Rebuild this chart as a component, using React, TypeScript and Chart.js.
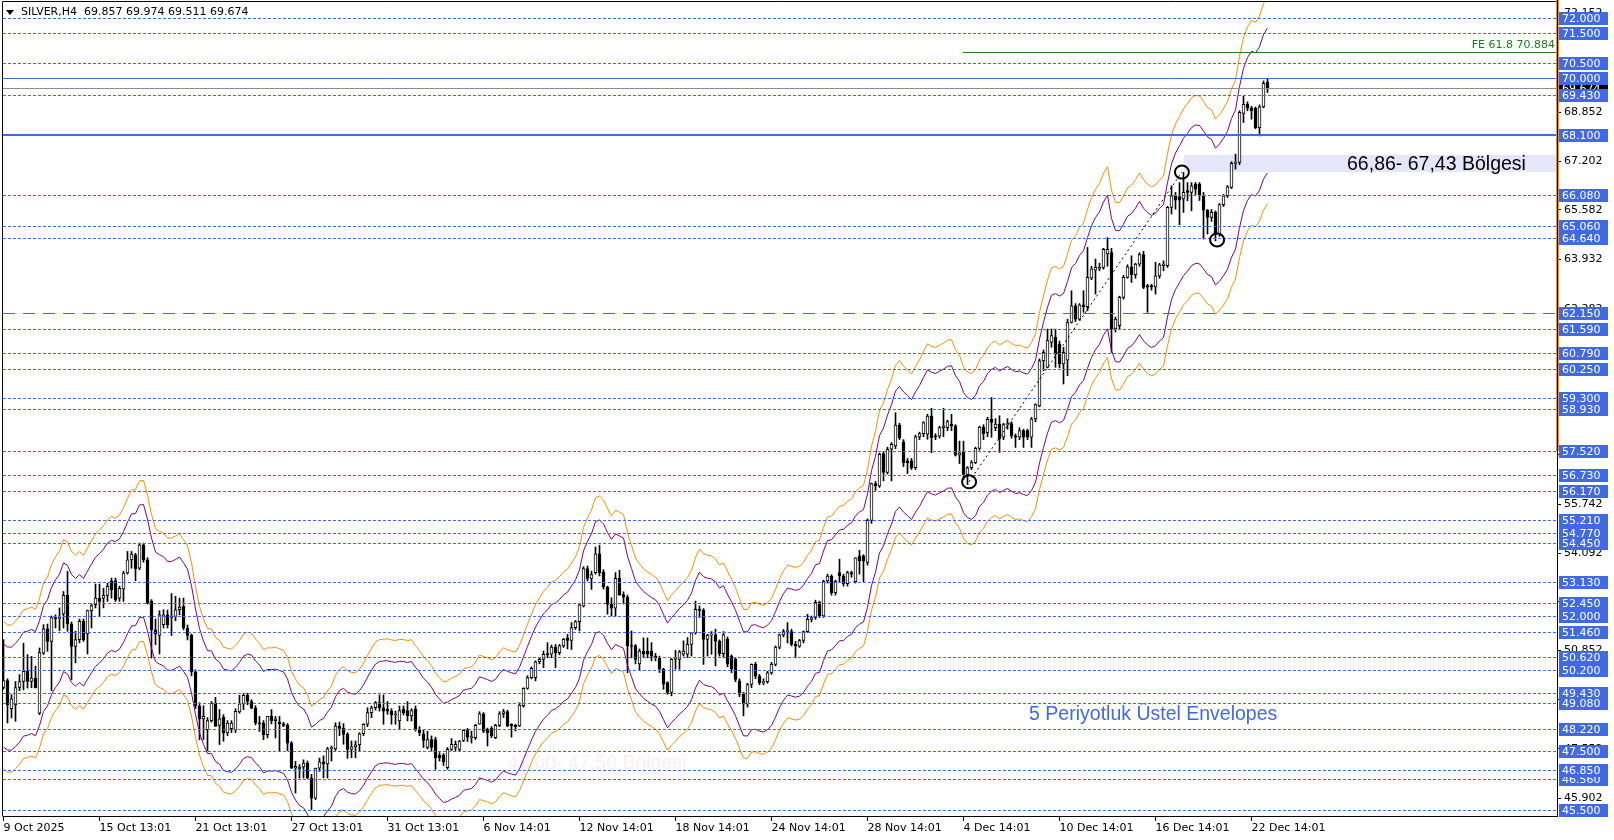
import { useEffect, useRef } from 'react';
import { Chart, registerables } from 'chart.js';

Chart.register(...registerables);

// ---------------- DATA ----------------
const symbolTitle = 'SILVER,H4';
const headerValues = ['69.857', '69.974', '69.511', '69.674'];

const opens = [
  49.61,49.84,48.90,49.03,49.61,49.81,50.15,49.81,49.92,48.75,
  50.76,51.57,51.15,51.95,51.91,52.07,52.69,51.73,50.98,51.21,
  51.82,51.40,52.18,52.38,52.60,52.60,52.69,53.18,53.18,52.60,
  52.91,53.44,53.88,54.05,53.60,54.38,53.88,52.49,51.54,51.35,
  51.71,52.04,51.95,51.99,52.21,52.32,51.60,51.35,50.13,48.98,
  48.56,48.20,48.50,49.09,48.34,48.61,48.09,48.23,48.20,48.79,
  49.06,49.35,49.14,48.92,48.42,48.42,48.03,48.64,48.50,48.45,
  48.39,48.34,47.75,46.91,46.89,46.94,47.08,46.58,45.91,46.91,
  47.12,47.05,47.56,47.55,48.32,48.24,48.04,47.54,47.62,47.69,
  48.06,48.38,48.77,48.93,49.10,48.93,48.88,48.82,48.69,48.49,
  48.88,48.84,48.66,48.88,48.21,48.06,47.60,47.87,47.87,47.35,
  47.35,46.93,47.54,47.60,47.54,47.84,48.18,47.93,47.93,48.38,
  48.73,48.21,48.24,47.93,48.34,48.73,48.80,48.38,48.34,48.32,
  49.00,49.58,49.94,49.94,50.47,50.55,50.74,50.72,50.96,50.77,
  51.00,51.27,51.18,51.61,51.81,52.33,53.59,53.26,53.45,54.08,
  53.48,52.97,52.39,52.26,53.26,52.72,52.63,51.00,51.00,50.40,
  50.83,50.83,50.83,50.66,50.61,50.22,49.77,49.44,50.55,50.55,
  50.72,50.72,51.05,51.44,52.22,52.19,51.22,51.36,51.37,51.16,
  50.74,51.22,50.66,50.55,49.83,49.38,49.05,49.71,50.38,49.99,
  49.77,49.80,50.10,50.38,50.96,51.37,51.48,51.48,51.05,50.99,
  51.18,51.48,51.89,51.95,52.46,52.00,53.17,53.34,52.78,53.45,
  53.34,53.08,53.45,53.15,54.01,54.01,53.79,55.20,56.43,56.35,
  57.43,56.80,57.58,57.69,58.39,57.83,57.19,57.19,56.96,57.99,
  58.10,58.08,58.69,58.02,58.02,58.30,58.30,58.41,58.36,57.38,
  57.50,56.74,56.96,57.13,57.61,58.32,58.13,58.58,58.30,58.42,
  57.98,58.40,58.44,58.03,57.98,58.20,58.20,57.98,58.59,59.03,
  60.54,60.32,61.15,61.32,61.10,60.43,60.56,61.82,62.38,61.93,
  62.41,62.35,63.30,63.57,63.62,63.66,64.11,64.16,61.60,61.71,
  62.66,63.33,63.68,63.42,63.77,64.09,63.05,63.05,63.01,63.38,
  63.72,63.72,65.67,66.06,66.03,65.95,66.23,66.17,66.45,66.45,
  66.06,65.58,65.33,65.50,64.78,65.76,66.06,66.34,67.14,67.17,
  68.81,69.12,68.99,68.99,68.34,69.03,69.857,
];

const highs = [
  51.21,49.90,49.37,49.81,50.04,51.09,50.71,50.65,50.32,50.93,
  51.71,51.73,52.00,52.04,52.27,52.82,53.49,51.80,51.49,51.90,
  51.90,52.20,52.40,53.07,53.07,52.93,53.10,53.27,53.27,53.00,
  53.50,54.16,54.16,54.10,54.44,54.44,53.95,52.55,51.90,52.18,
  52.21,52.20,52.75,52.66,52.60,52.60,51.70,51.40,50.20,49.10,
  49.00,48.60,49.14,49.28,48.87,48.70,48.50,48.50,48.90,49.35,
  49.42,49.42,49.20,49.00,48.64,48.50,48.64,48.87,48.64,48.64,
  48.45,48.40,47.80,47.14,47.03,47.19,47.15,46.70,46.91,47.25,
  47.32,47.61,47.65,48.43,48.45,48.40,48.10,47.82,47.82,48.10,
  48.40,48.93,48.99,49.14,49.36,49.36,49.14,48.90,48.82,48.99,
  48.99,49.14,48.90,48.99,48.30,48.20,48.15,47.99,47.95,47.43,
  47.40,47.60,47.90,47.82,47.84,48.20,48.24,48.15,48.38,48.80,
  48.77,48.25,48.30,48.38,48.80,48.88,48.85,48.40,48.38,49.10,
  49.60,50.00,50.30,50.50,50.60,50.83,51.11,51.03,51.05,51.05,
  51.25,51.39,51.78,51.85,52.41,53.65,53.67,53.50,54.31,54.37,
  53.55,53.00,52.61,53.45,53.53,52.81,52.70,51.50,51.05,50.90,
  51.27,51.27,51.11,50.75,50.66,50.25,49.80,50.58,50.85,50.85,
  51.17,51.28,51.44,52.50,52.34,52.25,51.39,51.48,51.56,51.20,
  51.48,51.30,50.70,50.60,49.90,49.45,49.75,50.40,50.45,50.05,
  49.90,50.15,50.45,51.00,51.40,51.55,51.78,51.56,51.15,51.22,
  51.50,52.06,52.00,52.53,52.50,53.20,53.40,53.38,53.20,53.90,
  53.40,53.50,53.50,53.95,54.20,54.05,55.25,56.45,56.50,57.45,
  57.50,57.65,57.80,58.80,58.45,57.90,57.27,57.27,58.05,58.15,
  58.50,58.75,58.95,58.10,58.35,58.95,58.55,58.75,58.40,57.85,
  57.85,57.00,57.20,57.65,58.35,58.40,58.65,59.31,58.60,58.70,
  58.45,58.60,58.50,58.09,58.30,58.25,58.25,58.65,59.10,60.60,
  60.90,61.60,61.60,61.60,61.20,60.99,61.93,62.88,62.45,62.45,
  62.88,64.33,63.70,63.94,63.80,64.30,64.66,64.30,62.00,62.70,
  63.40,63.75,64.05,63.80,64.15,64.20,63.10,63.10,63.83,63.80,
  63.88,65.70,66.39,66.17,66.50,66.84,66.50,66.50,66.50,66.50,
  66.17,65.60,65.60,65.55,65.80,66.10,66.40,67.20,67.45,68.90,
  69.40,69.20,69.05,69.03,69.10,69.90,69.974,
];

const lows = [
  49.55,48.42,48.59,48.48,49.50,49.53,49.59,49.60,49.59,48.70,
  50.71,50.82,49.50,51.60,51.51,51.60,51.49,49.87,50.43,51.10,
  51.15,50.73,51.60,52.27,51.99,52.27,52.49,52.60,52.49,52.49,
  52.49,53.40,53.60,53.18,53.55,53.80,52.40,50.59,51.04,50.73,
  51.60,51.60,51.35,51.84,52.04,51.54,51.20,50.00,48.90,47.86,
  47.86,47.49,48.45,48.31,47.70,47.81,48.00,48.10,48.10,48.75,
  48.87,49.03,48.90,48.36,48.14,47.86,47.92,48.39,47.92,47.49,
  48.30,47.49,46.90,46.08,46.58,46.58,46.55,45.52,45.86,46.80,
  46.59,46.58,47.15,47.50,48.00,47.71,47.24,47.26,47.26,47.48,
  48.00,48.30,48.60,48.85,48.82,48.38,48.71,48.38,48.38,48.21,
  48.69,48.49,48.49,48.15,48.00,47.60,47.55,47.48,46.87,47.15,
  47.00,46.87,47.50,47.48,47.48,47.80,47.80,47.75,47.87,48.38,
  48.10,47.65,47.93,47.90,48.30,48.60,48.30,47.95,48.15,48.30,
  48.95,49.55,49.90,49.83,50.40,50.27,50.60,50.60,50.27,50.70,
  50.95,50.90,50.88,51.55,51.50,52.30,53.17,52.89,53.40,53.34,
  52.90,52.06,52.00,52.00,52.70,52.40,50.10,50.60,50.40,50.20,
  50.60,50.60,50.50,50.50,50.11,49.55,49.38,49.33,50.22,50.22,
  50.66,50.61,50.66,51.39,51.95,50.38,50.66,50.72,50.33,50.66,
  50.60,50.30,50.10,49.80,49.30,48.66,48.95,49.60,49.90,49.70,
  49.70,49.75,50.05,50.33,50.90,51.30,51.10,51.00,50.60,50.95,
  51.10,51.45,51.80,51.89,51.95,51.95,53.10,52.70,52.70,53.15,
  53.00,53.00,53.30,53.10,53.40,53.15,53.70,55.10,56.20,56.30,
  56.52,56.75,56.52,57.60,57.90,57.00,56.76,56.90,56.90,57.90,
  58.00,57.91,57.46,57.90,57.95,58.00,58.20,58.20,57.35,57.10,
  56.57,56.40,56.90,57.10,57.55,57.90,58.00,57.98,58.20,57.47,
  57.90,58.25,57.95,57.64,57.90,57.64,57.90,57.64,58.50,59.00,
  60.21,60.30,60.99,60.32,60.30,59.76,60.04,61.80,61.85,61.90,
  62.16,62.21,63.25,62.77,63.55,63.60,63.70,60.82,61.50,61.60,
  62.60,63.30,63.16,63.30,63.70,62.95,62.16,62.90,62.77,63.30,
  63.55,63.66,65.45,65.61,65.09,65.50,65.89,65.56,66.10,65.90,
  64.61,64.78,65.20,64.55,64.70,65.70,66.00,66.30,66.95,67.10,
  68.51,68.90,68.62,68.30,68.06,69.00,69.511,
];

const closes = [
  49.84,49.03,49.23,49.61,49.81,50.15,49.81,49.92,49.60,50.78,
  51.57,51.15,51.95,51.91,51.95,52.69,51.73,50.98,51.21,51.82,
  51.21,52.18,52.35,52.60,52.49,52.69,52.99,52.88,52.54,52.93,
  53.44,53.88,54.07,53.58,54.38,53.88,52.43,51.54,51.40,52.04,
  52.04,51.71,51.99,52.21,52.30,51.60,51.35,50.13,48.98,48.56,
  48.64,48.50,49.09,48.31,48.56,48.09,48.42,48.42,48.81,49.06,
  49.35,49.14,48.92,48.42,48.39,48.03,48.64,48.50,48.56,48.39,
  48.34,47.75,46.91,46.97,46.94,47.08,46.58,45.91,46.91,47.12,
  47.05,47.56,47.60,48.32,48.24,48.04,47.54,47.62,47.69,48.06,
  48.38,48.77,48.93,49.10,48.93,48.82,48.82,48.69,48.71,48.84,
  48.77,48.66,48.84,48.21,48.10,47.84,47.87,47.60,47.26,47.26,
  47.13,47.54,47.71,47.71,47.82,48.18,47.95,47.95,48.34,48.73,
  48.15,48.10,48.00,48.34,48.73,48.80,48.32,48.32,48.30,49.02,
  49.58,49.94,50.25,50.47,50.55,50.72,50.70,50.96,50.77,51.00,
  51.22,51.18,51.61,51.81,52.37,53.59,53.26,53.39,54.08,53.45,
  52.97,52.39,52.26,53.26,52.70,52.63,51.00,50.98,50.55,50.83,
  50.73,50.72,50.66,50.61,50.22,49.72,49.44,50.55,50.61,50.80,
  50.83,51.05,51.44,52.22,52.19,51.22,51.36,51.39,51.16,50.74,
  51.37,50.39,50.22,49.88,49.38,49.05,49.71,50.38,49.99,49.77,
  49.80,50.10,50.38,50.96,51.37,51.48,51.50,51.05,50.99,51.18,
  51.48,51.89,51.95,52.46,52.00,53.17,53.34,52.78,53.17,53.34,
  53.08,53.45,53.40,53.95,53.84,53.84,55.20,56.43,56.35,57.41,
  56.80,57.58,57.74,58.39,57.97,57.13,57.13,56.96,57.99,58.10,
  58.47,58.69,57.97,57.99,58.30,58.36,58.50,58.36,57.38,57.46,
  56.74,56.96,57.13,57.61,58.32,58.10,58.58,58.48,58.42,57.92,
  58.40,58.44,58.03,57.98,58.20,57.98,57.98,58.59,59.07,60.54,
  60.82,61.21,61.38,60.76,60.43,60.82,61.82,62.38,61.93,62.41,
  62.35,63.33,63.61,63.66,63.66,64.27,64.27,61.60,61.93,62.66,
  63.33,63.68,63.42,63.77,64.09,62.99,63.00,63.01,63.38,63.75,
  63.77,65.67,66.06,65.91,65.91,66.17,66.17,66.39,66.28,66.06,
  65.58,65.33,65.50,64.78,65.76,66.06,66.36,67.14,67.17,68.85,
  69.12,68.99,68.90,68.34,69.03,69.82,69.674,
];

const dateLabels = [
  '9 Oct 2025', '15 Oct 13:01', '21 Oct 13:01', '27 Oct 13:01', '31 Oct 13:01',
  '6 Nov 14:01', '12 Nov 14:01', '18 Nov 14:01', '24 Nov 14:01', '28 Nov 14:01',
  '4 Dec 14:01', '10 Dec 14:01', '16 Dec 14:01', '22 Dec 14:01',
];
const dateTickBars = [0, 24, 48, 72, 96, 120, 144, 168, 192, 216, 240, 264, 288, 312];

const priceTicks = [45.902, 47.552, 49.202, 50.852, 52.472, 54.092, 55.742, 57.392, 59.042,
  60.662, 62.282, 63.932, 65.582, 67.202, 68.852, 70.502, 72.152];

const dottedLevels = [72.0, 71.5, 70.5, 69.43, 66.08, 65.06, 64.64, 61.59, 60.79, 60.25, 59.3,
  58.93, 57.52, 56.73, 56.17, 55.21, 54.77, 54.45, 53.13, 52.45, 52.0, 51.46, 50.62, 50.2,
  49.43, 49.08, 48.22, 47.5, 46.85, 46.56, 45.5];
const solidLevels = [70.0];
const thickLevels = [68.1];
const dashedLevels = [62.15];
const axisBoxLevels = [72.0, 71.5, 70.5, 70.0, 69.43, 68.1, 66.08, 65.06, 64.64, 62.15, 61.59,
  60.79, 60.25, 59.3, 58.93, 57.52, 56.73, 56.17, 55.21, 54.77, 54.45, 53.13, 52.45, 52.0,
  51.46, 50.62, 50.2, 49.43, 49.08, 48.22, 47.5, 46.56, 46.85, 45.5];
const currentPrice = 69.674;

const feLevel = 70.884;
const feStartBar = 239.75;
const feLabel = 'FE 61.8 70.884';

const zoneLow = 66.86;
const zoneHigh = 67.43;
const zoneStartBar = 295;
const zoneLabel = '66,86- 67,43 Bölgesi';
const zoneLabelBar = 380.6;

const faintLabel = '47,00- 47,50 Bölgesi';
const faintLabelBar = 126;
const faintLabelPrice = 47.05;

const envelopeLabel = '5 Periyotluk Üstel Envelopes';
const envelopeLabelBar = 256.4;
const envelopeLabelPrice = 48.69;

const markerBars = [241.4, 294.6, 303.4];
const markerPrices = [56.49, 66.85, 64.58];

const stripeBottomPrice = 57.52;

const emaPeriod = 5;
const emaSeed = 49.1;
const innerDeviation = 3.5;
const outerDeviation = 5.0;

const yMin = 45.31;
const yMax = 72.54;
const xMin = -0.125;
const xMax = 388.375;

// ---------------- DERIVED ----------------
const n = Math.min(opens.length, highs.length, lows.length, closes.length);
const bars = Array.from({ length: n }, (_, i) => i);
const ema: number[] = [];
{
  const alpha = 2 / (emaPeriod + 1);
  let prev = emaSeed;
  for (let i = 0; i < n; i++) {
    prev = prev + alpha * (closes[i] - prev);
    ema.push(prev);
  }
}
const env = (k: number) => bars.map((i) => ({ x: i, y: ema[i] * (1 + k / 100) }));

const BLUE = '#4169e1';
const FONT = '"DejaVu Sans"';

const overlay = {
  id: 'mt4Overlay',
  beforeDraw(chart: any) {
    const { ctx } = chart;
    ctx.save();
    ctx.fillStyle = '#ffffff';
    ctx.fillRect(0, 0, chart.width, chart.height);
    ctx.restore();
  },
  beforeDatasetsDraw(chart: any) {
    const { ctx, chartArea: a } = chart;
    const x = chart.scales.x;
    const y = chart.scales.y;
    ctx.save();
    ctx.beginPath();
    ctx.rect(a.left, a.top, a.right - a.left, a.bottom - a.top);
    ctx.clip();
    const zx = Math.round(x.getPixelForValue(zoneStartBar));
    const zt = Math.round(y.getPixelForValue(zoneHigh));
    const zb = Math.round(y.getPixelForValue(zoneLow));
    ctx.fillStyle = '#e6e6fa';
    ctx.fillRect(zx, zt, a.right - zx, zb - zt);
    ctx.font = '19.5px "Liberation Sans"';
    ctx.fillStyle = '#fbeeee';
    ctx.textAlign = 'left';
    ctx.textBaseline = 'middle';
    ctx.fillText(faintLabel, x.getPixelForValue(faintLabelBar), y.getPixelForValue(faintLabelPrice));
    ctx.restore();
  },
  afterDatasetsDraw(chart: any) {
    const { ctx, chartArea: a } = chart;
    const x = chart.scales.x;
    const y = chart.scales.y;
    const py = (v: number) => Math.round(y.getPixelForValue(v)) + 0.5;
    const hline = (v: number) => {
      const yy = py(v);
      ctx.beginPath();
      ctx.moveTo(a.left, yy);
      ctx.lineTo(a.right, yy);
      ctx.stroke();
    };
    ctx.save();
    ctx.beginPath();
    ctx.rect(a.left, a.top, a.right - a.left, a.bottom - a.top);
    ctx.clip();

    ctx.lineWidth = 1;
    ctx.strokeStyle = BLUE;
    ctx.setLineDash([3, 2]);
    dottedLevels.forEach(hline);
    ctx.setLineDash([12, 8]);
    dashedLevels.forEach(hline);
    ctx.setLineDash([]);
    ctx.strokeStyle = '#8c8c8c';
    hline(currentPrice);
    ctx.strokeStyle = BLUE;
    solidLevels.forEach(hline);
    ctx.lineWidth = 2;
    thickLevels.forEach((v) => {
      const yy = Math.round(y.getPixelForValue(v));
      ctx.beginPath();
      ctx.moveTo(a.left, yy);
      ctx.lineTo(a.right, yy);
      ctx.stroke();
    });

    // FE line
    ctx.lineWidth = 1;
    ctx.strokeStyle = '#1e7b1e';
    const fy = py(feLevel);
    ctx.beginPath();
    ctx.moveTo(Math.round(x.getPixelForValue(feStartBar)), fy);
    ctx.lineTo(a.right, fy);
    ctx.stroke();
    ctx.font = '11px ' + FONT;
    ctx.fillStyle = '#1e7b1e';
    ctx.textAlign = 'right';
    ctx.textBaseline = 'bottom';
    ctx.fillText(feLabel, a.right - 2, fy - 2);

    // trend (dotted) line between first two markers
    ctx.strokeStyle = '#000';
    ctx.setLineDash([2, 3]);
    ctx.beginPath();
    ctx.moveTo(x.getPixelForValue(markerBars[0]), y.getPixelForValue(markerPrices[0]));
    ctx.lineTo(x.getPixelForValue(markerBars[1]), y.getPixelForValue(markerPrices[1]));
    ctx.stroke();
    ctx.setLineDash([]);

    // circles
    ctx.lineWidth = 2;
    markerBars.forEach((b, i) => {
      ctx.beginPath();
      ctx.ellipse(x.getPixelForValue(b), y.getPixelForValue(markerPrices[i]), 7, 6.5, 0, 0, Math.PI * 2);
      ctx.stroke();
    });

    // texts
    ctx.font = '19.5px "Liberation Sans"';
    ctx.textBaseline = 'middle';
    ctx.fillStyle = '#000';
    ctx.textAlign = 'right';
    ctx.fillText(zoneLabel, x.getPixelForValue(zoneLabelBar), y.getPixelForValue((zoneLow + zoneHigh) / 2) + 1);
    ctx.fillStyle = BLUE;
    ctx.textAlign = 'left';
    ctx.fillText(envelopeLabel, x.getPixelForValue(envelopeLabelBar), y.getPixelForValue(envelopeLabelPrice));
    ctx.restore();
  },
  afterDraw(chart: any) {
    const { ctx, chartArea: a } = chart;
    const y = chart.scales.y;
    ctx.save();
    // header
    ctx.fillStyle = '#000';
    ctx.beginPath();
    ctx.moveTo(6, 10);
    ctx.lineTo(14, 10);
    ctx.lineTo(10, 15);
    ctx.closePath();
    ctx.fill();
    ctx.font = '11px ' + FONT;
    ctx.textAlign = 'left';
    ctx.textBaseline = 'middle';
    ctx.fillText(symbolTitle + '  ' + headerValues.join(' '), 21, 12);

    // frame
    ctx.strokeStyle = '#000';
    ctx.lineWidth = 1;
    ctx.beginPath();
    ctx.moveTo(a.left - 0.5, a.bottom + 0.5);
    ctx.lineTo(a.left - 0.5, a.top - 0.5);
    ctx.lineTo(a.right, a.top - 0.5);
    ctx.stroke();

    // orange stripe on price axis
    const sb = Math.round(y.getPixelForValue(stripeBottomPrice));
    ctx.fillStyle = '#ff8c00';
    ctx.fillRect(a.right - 1, 0, 3, sb);
    ctx.fillStyle = '#000';
    ctx.fillRect(a.right, 0, 1, a.bottom + 1);

    // price boxes
    ctx.font = '11px ' + FONT;
    ctx.textAlign = 'left';
    ctx.textBaseline = 'middle';
    const box = (v: number, bg: string, fg: string) => {
      const yy = Math.round(y.getPixelForValue(v));
      ctx.fillStyle = bg;
      ctx.fillRect(a.right + 2, yy - 6, 49, 13);
      ctx.fillStyle = fg;
      ctx.fillText(v.toFixed(3), a.right + 5, yy + 1);
    };
    box(currentPrice, '#000', '#fff');
    axisBoxLevels.forEach((v) => box(v, BLUE, '#fff'));
    ctx.restore();
  },
};

export default function App() {
  const ref = useRef<HTMLCanvasElement | null>(null);
  useEffect(() => {
    if (!ref.current) return;
    Chart.defaults.font.family = FONT;
    const chart = new Chart(ref.current, {
      type: 'bar',
      data: {
        datasets: [
          {
            type: 'line',
            data: env(outerDeviation),
            borderColor: '#ff8c00',
            borderWidth: 1,
            pointRadius: 0,
            fill: false,
            tension: 0,
            order: 0,
          },
          {
            type: 'line',
            data: env(innerDeviation),
            borderColor: '#800080',
            borderWidth: 1,
            pointRadius: 0,
            fill: false,
            tension: 0,
            order: 0,
          },
          {
            type: 'line',
            data: env(-innerDeviation),
            borderColor: '#800080',
            borderWidth: 1,
            pointRadius: 0,
            fill: false,
            tension: 0,
            order: 0,
          },
          {
            type: 'line',
            data: env(-outerDeviation),
            borderColor: '#ff8c00',
            borderWidth: 1,
            pointRadius: 0,
            fill: false,
            tension: 0,
            order: 0,
          },
          {
            type: 'bar',
            data: bars.map((i) => ({ x: i, y: [opens[i], closes[i]] })),
            backgroundColor: bars.map((i) => (closes[i] >= opens[i] ? '#ffffff' : '#000000')),
            borderColor: '#000000',
            borderWidth: 1,
            borderSkipped: false,
            grouped: false,
            categoryPercentage: 1,
            barPercentage: 1,
            maxBarThickness: 3,
            minBarLength: 1,
            order: 2,
          } as any,
          {
            type: 'bar',
            data: bars.map((i) => ({ x: i, y: [lows[i], highs[i]] })),
            backgroundColor: '#000000',
            borderWidth: 0,
            grouped: false,
            categoryPercentage: 1,
            barPercentage: 1,
            maxBarThickness: 1,
            minBarLength: 1,
            order: 3,
          } as any,
        ],
      },
      options: {
        responsive: false,
        animation: false,
        devicePixelRatio: 1,
        events: [],
        layout: { padding: { left: 3, top: 2, right: 0, bottom: 0 } },
        plugins: { legend: { display: false }, tooltip: { enabled: false } },
        scales: {
          x: {
            type: 'linear',
            min: xMin,
            max: xMax,
            offset: false,
            afterBuildTicks: (s: any) => {
              s.ticks = dateTickBars.map((v) => ({ value: v }));
            },
            afterFit: (s: any) => {
              s.height = 24;
              s.paddingLeft = 0;
              s.paddingRight = 0;
            },
            grid: { drawOnChartArea: false, drawTicks: true, tickLength: 5, color: '#000', offset: false },
            border: { display: true, color: '#000' },
            ticks: {
              autoSkip: false,
              maxRotation: 0,
              minRotation: 0,
              align: 'start',
              padding: 1,
              color: '#000',
              font: { family: FONT, size: 11 },
              callback: (_v: any, idx: number) => dateLabels[idx] ?? '',
            },
          },
          y: {
            type: 'linear',
            position: 'right',
            min: yMin,
            max: yMax,
            afterBuildTicks: (s: any) => {
              s.ticks = priceTicks.map((v) => ({ value: v }));
            },
            afterFit: (s: any) => {
              s.width = 57;
              s.paddingTop = 0;
              s.paddingBottom = 0;
            },
            grid: { drawOnChartArea: false, drawTicks: true, tickLength: 4, color: '#000' },
            border: { display: true, color: '#000' },
            ticks: {
              autoSkip: false,
              padding: 3,
              color: '#000',
              font: { family: FONT, size: 11 },
              callback: (v: any) => Number(v).toFixed(3),
            },
          },
        },
      } as any,
      plugins: [overlay],
    });
    return () => chart.destroy();
  }, []);
  return (
    <div style={{ position: 'fixed', left: 0, top: 0, width: 1614, height: 840, background: '#fff' }}>
      <canvas ref={ref} width={1614} height={840} style={{ display: 'block', width: 1614, height: 840 }} />
    </div>
  );
}
